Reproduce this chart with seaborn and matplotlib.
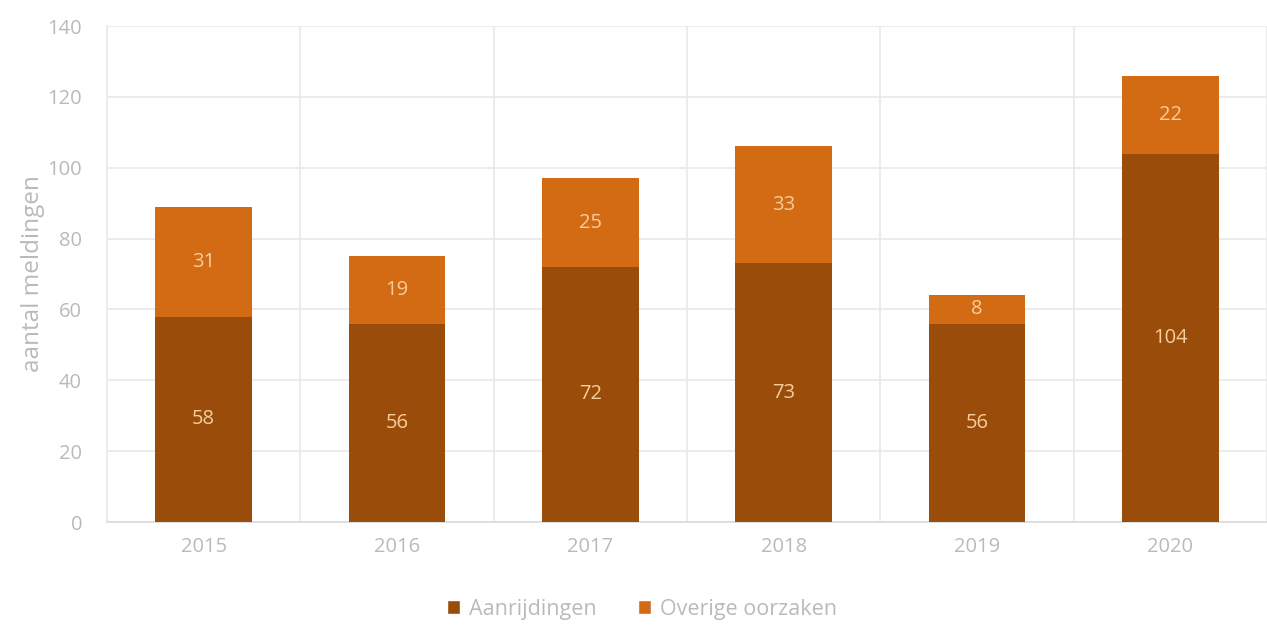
import matplotlib
matplotlib.use("Agg")
import matplotlib.pyplot as plt
from matplotlib.patches import Patch
import numpy as np
import pandas as pd
import seaborn as sns

years = ["2015", "2016", "2017", "2018", "2019", "2020"]
aanrijdingen = [58, 56, 72, 73, 56, 104]
overige = [31, 19, 25, 33, 8, 22]
series_names = ["Aanrijdingen", "Overige oorzaken"]
y_ticks = [0, 20, 40, 60, 80, 100, 120, 140]

dark = "#9A4D0B"
light = "#D36A14"
label_col = "#F8CD9C"
grey = "#BABABA"
grid_col = "#EAEAEA"

sns.set_theme(style="white")
plt.rcParams["font.family"] = ["Open Sans", "DejaVu Sans"]

df = pd.DataFrame({"jaar": years, "a": aanrijdingen, "o": overige})
df["totaal"] = df["a"] + df["o"]

fig = plt.figure(figsize=(12.67, 6.25), dpi=100)
ax = fig.add_axes([107 / 1267, 1 - 522 / 625, (1267 - 107) / 1267, (522 - 26) / 625])

sns.barplot(data=df, x="jaar", y="totaal", color=light, width=0.5,
            saturation=1, ax=ax, zorder=3, linewidth=0)
sns.barplot(data=df, x="jaar", y="a", color=dark, width=0.5,
            saturation=1, ax=ax, zorder=4, linewidth=0)

for i, (a, o) in enumerate(zip(aanrijdingen, overige)):
    ax.text(i, a / 2, str(a), ha="center", va="center", color=label_col,
            fontsize=14.5, zorder=5)
    ax.text(i, a + o / 2, str(o), ha="center", va="center", color=label_col,
            fontsize=14.5, zorder=5)

span = (1267 - 107) / 195.2
ax.set_xlim(-0.5, -0.5 + span)
ax.set_ylim(0, 140)
ax.set_yticks(y_ticks)
ax.set_yticklabels([str(t) for t in y_ticks])
ax.set_xticks(range(len(years)))
ax.set_xticklabels(years)
ax.set_xticks(np.arange(-0.5, len(years), 1), minor=True)

ax.grid(axis="y", which="major", color=grid_col, linewidth=1.3, zorder=0)
ax.grid(axis="x", which="minor", color=grid_col, linewidth=1.3, zorder=0)
ax.grid(axis="x", which="major", visible=False)

for side in ["top", "right"]:
    ax.spines[side].set_visible(False)
ax.spines["left"].set_color(grid_col)
ax.spines["left"].set_linewidth(1.3)
ax.spines["bottom"].set_color("#DCDCDC")
ax.spines["bottom"].set_linewidth(1.3)

ax.tick_params(axis="both", which="both", length=0, colors=grey, labelsize=14.5)
ax.tick_params(axis="y", pad=18)
ax.tick_params(axis="x", pad=11)

ax.set_xlabel("")
ax.set_ylabel("aantal meldingen", color=grey, fontsize=17.5, labelpad=2)

handles = [Patch(facecolor=dark, label=series_names[0]),
           Patch(facecolor=light, label=series_names[1])]
leg = fig.legend(handles=handles, loc="center", bbox_to_anchor=(642 / 1267, 1 - 609 / 625),
                 ncol=2, frameon=False, fontsize=15.5, handlelength=0.6,
                 handleheight=0.6, handletextpad=0.45, columnspacing=1.9)
for t in leg.get_texts():
    t.set_color(grey)

fig.savefig("out.png", dpi=100)
